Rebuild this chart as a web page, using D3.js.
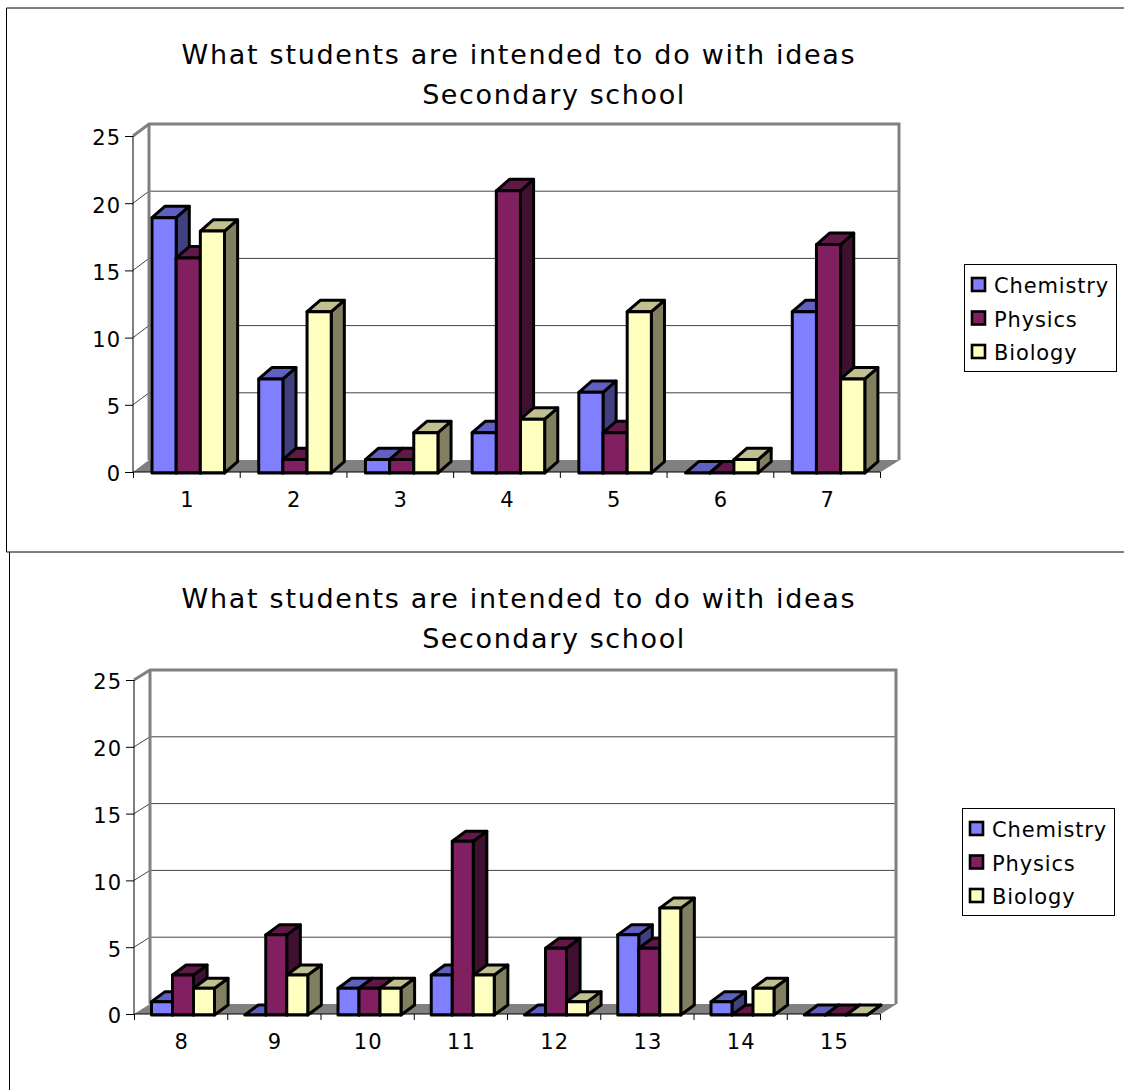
<!DOCTYPE html>
<html>
<head>
<meta charset="utf-8">
<script src="https://cdn.jsdelivr.net/npm/d3@7/dist/d3.min.js"></script>
<style>
html,body{margin:0;padding:0;background:#fff;}
svg{display:block;}
text{font-family:"DejaVu Sans",Verdana,sans-serif;fill:#000;}
</style>
</head>
<body>
<svg id="page" width="1124" height="1090"></svg>
<script>
// Survey results, one list per subject and panel
const seriesNames = ["Chemistry", "Physics", "Biology"];
const titleLines = ["What students are intended to do with ideas", "Secondary school"];
const yTicks = [0, 5, 10, 15, 20, 25];

const categoriesA = [1, 2, 3, 4, 5, 6, 7];
const chemistryA = [19, 7, 1, 3, 6, 0, 12];
const physicsA = [16, 1, 1, 21, 3, 0, 17];
const biologyA = [18, 12, 3, 4, 12, 1, 7];

const categoriesB = [8, 9, 10, 11, 12, 13, 14, 15];
const chemistryB = [1, 0, 2, 3, 0, 6, 1, 0];
const physicsB = [3, 6, 2, 13, 5, 5, 0, 0];
const biologyB = [2, 3, 2, 3, 1, 8, 2, 0];

// Shades for the front, top and side faces of each subject's columns
const faces = [
  {front: "#8080ff", top: "#6060c0", side: "#404080"},
  {front: "#802060", top: "#601848", side: "#401030"},
  {front: "#ffffc0", top: "#c0c090", side: "#808060"}
];

const svg = d3.select("#page");

// Outer frames of the two panels
const frames = [
  [[1124, 8], [6.5, 8], [6.5, 552], [1124, 552]],
  [[9.5, 552], [9.5, 1090]]
];
svg.selectAll("path.frame").data(frames).join("path")
  .attr("class", "frame")
  .attr("d", d3.line())
  .attr("fill", "none")
  .attr("stroke", "#000")
  .attr("stroke-width", 1);

function drawPanel(o) {
  const g = svg.append("g");
  const depth = o.depth;
  const x = d3.scaleBand().domain(o.categories).range([o.left, o.right]);
  const edges = d3.scaleLinear().domain([0, o.categories.length]).range([o.left, o.right]);
  const y = d3.scaleLinear().domain([0, 25]).range([o.bottom, o.top]);
  const bar = d3.scaleBand().domain(seriesNames)
    .range([o.barStart, o.barStart + o.barGroup]);
  const line = d3.line();

  // Titles
  g.selectAll("text.title").data(titleLines).join("text")
    .attr("class", "title")
    .attr("x", (d, i) => o.titleX[i])
    .attr("y", (d, i) => o.titleY + i * 40)
    .attr("text-anchor", "middle")
    .attr("font-size", 27)
    .attr("letter-spacing", (d, i) => o.titleSpacing[i])
    .text(d => d);

  const backLeft = o.left + depth.x, backRight = o.backRight;
  const yBack = v => y(v) - depth.y;

  // Floor
  g.append("path")
    .attr("d", line([[o.left, y(0)], [backLeft, yBack(0)], [backRight, yBack(0)], [o.right, y(0)]]) + "Z")
    .attr("fill", "#808080");

  // Gridlines along the side wall and across the back wall
  g.selectAll("path.grid").data(yTicks.filter(v => v > 0 && v < 25)).join("path")
    .attr("class", "grid")
    .attr("d", v => line([[o.left, y(v)], [backLeft, yBack(v)], [backRight, yBack(v)]]))
    .attr("fill", "none")
    .attr("stroke", "#444")
    .attr("stroke-width", 1);

  // Raised outline of the walls
  g.append("path")
    .attr("d", line([[o.left, y(25)], [backLeft, yBack(25)], [backRight, yBack(25)], [backRight, yBack(0)]]))
    .attr("fill", "none")
    .attr("stroke", "#808080")
    .attr("stroke-width", 3);
  g.append("path")
    .attr("d", line([[backLeft, yBack(25)], [backLeft, yBack(0)]]))
    .attr("stroke", "#808080")
    .attr("stroke-width", 3);
  g.append("path")
    .attr("d", line([[o.right, y(0)], [backRight, yBack(0)]]))
    .attr("stroke", "#808080")
    .attr("stroke-width", 1);

  // Columns, left to right so that later ones overlap earlier side faces
  const dx = depth.x * o.barDepth.x, dy = depth.y * o.barDepth.y;
  o.categories.forEach((cat, ci) => {
    o.series.forEach((values, si) => {
      const name = seriesNames[si];
      const x0 = x(cat) + bar(name), x1 = x0 + bar.bandwidth();
      const yt = y(values[ci]) + 1, yb = y(0) + 1;
      const column = g.append("g")
        .attr("stroke", "#000")
        .attr("stroke-width", 3)
        .attr("stroke-linejoin", "round");
      column.append("path")
        .attr("d", line([[x1, yb], [x1 + dx, yb - dy], [x1 + dx, yt - dy], [x1, yt]]) + "Z")
        .attr("fill", faces[si].side);
      column.append("path")
        .attr("d", line([[x0, yt], [x0 + dx, yt - dy], [x1 + dx, yt - dy], [x1, yt]]) + "Z")
        .attr("fill", faces[si].top);
      column.append("rect")
        .attr("x", x0).attr("y", yt)
        .attr("width", x1 - x0).attr("height", yb - yt)
        .attr("fill", faces[si].front);
    });
  });

  // Value axis
  const yAxis = g.append("g")
    .attr("transform", `translate(${o.left},0)`)
    .call(d3.axisLeft(y).tickValues(yTicks).tickSize(8).tickPadding(4));
  yAxis.selectAll("text")
    .attr("font-size", 21)
    .attr("letter-spacing", 1)
    .attr("dy", "0.42em")
    .style("font-family", '"DejaVu Sans"');
  yAxis.selectAll("path,line").attr("stroke", "#000");
  yAxis.select(".domain").attr("d", line([[0, y(25)], [0, y(0)]]));

  // Category boundaries and labels
  const tickAxis = g.append("g")
    .attr("transform", `translate(0,${o.bottom})`)
    .call(d3.axisBottom(edges).ticks(o.categories.length).tickSize(6).tickFormat(""));
  tickAxis.select(".domain").attr("d", line([[o.left, 0], [o.right, 0]])).attr("stroke", "#000");
  tickAxis.selectAll("line").attr("stroke", "#000");

  const labelAxis = g.append("g")
    .attr("transform", `translate(1,${o.bottom})`)
    .call(d3.axisBottom(x).tickSize(0).tickPadding(20));
  labelAxis.select(".domain").remove();
  labelAxis.selectAll("text")
    .attr("font-size", 21)
    .attr("letter-spacing", 1)
    .style("font-family", '"DejaVu Sans"');

  // Legend
  const legend = g.append("g").attr("transform", `translate(${o.legend.x},${o.legend.y})`);
  legend.append("rect")
    .attr("x", 0.5).attr("y", 0.5)
    .attr("width", o.legend.w).attr("height", o.legend.h)
    .attr("fill", "#fff").attr("stroke", "#000");
  const rows = legend.selectAll("g").data(seriesNames).join("g")
    .attr("transform", (d, i) => `translate(0,${20 + i * 33.5})`);
  rows.append("rect")
    .attr("x", 8).attr("y", -6).attr("width", 13).attr("height", 13)
    .attr("fill", (d, i) => faces[i].front)
    .attr("stroke", "#000").attr("stroke-width", 2.6);
  rows.append("text")
    .attr("x", 30).attr("y", 9)
    .attr("font-size", 21)
    .attr("letter-spacing", 0.85)
    .text(d => d);
}

drawPanel({
  categories: categoriesA,
  series: [chemistryA, physicsA, biologyA],
  left: 133, right: 880, backRight: 899, top: 136, bottom: 472,
  depth: {x: 16, y: 12}, barDepth: {x: 0.82, y: 0.95},
  barStart: 19, barGroup: 72.5,
  titleX: [519, 554], titleY: 64, titleSpacing: [1.7, 1.6],
  legend: {x: 964, y: 264, w: 152, h: 107}
});

drawPanel({
  categories: categoriesB,
  series: [chemistryB, physicsB, biologyB],
  left: 134, right: 880, backRight: 896, top: 680, bottom: 1014,
  depth: {x: 16, y: 10}, barDepth: {x: 0.85, y: 1},
  barStart: 17.5, barGroup: 63,
  titleX: [519, 554], titleY: 608, titleSpacing: [1.7, 1.6],
  legend: {x: 962, y: 808, w: 152, h: 107}
});
</script>
</body>
</html>
